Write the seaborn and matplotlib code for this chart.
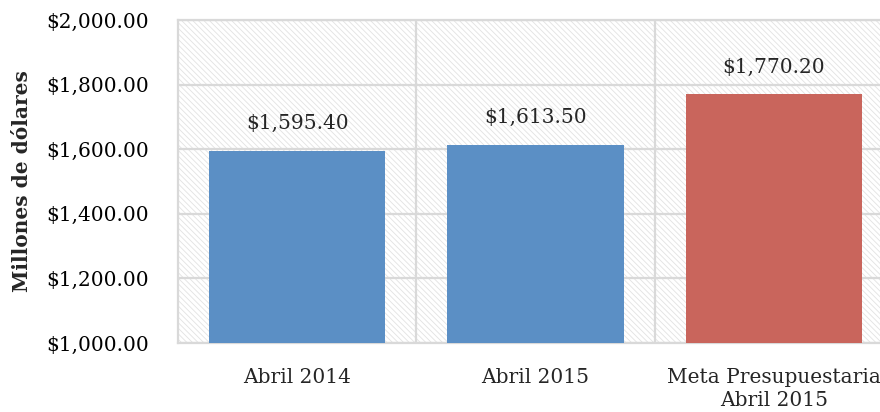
import matplotlib
matplotlib.use("Agg")
import matplotlib.pyplot as plt
import seaborn as sns
import pandas as pd
from matplotlib.patches import Rectangle
from matplotlib.ticker import FuncFormatter, FixedLocator

categories = ["Abril 2014", "Abril 2015", "Meta Presupuestaria\nAbril 2015"]
values = [1595.40, 1613.50, 1770.20]
colors = ["#5B8FC5", "#5B8FC5", "#C9655C"]
y_ticks = [1000, 1200, 1400, 1600, 1800, 2000]

sns.set_theme(style="white")
plt.rcParams["font.family"] = ["DejaVu Serif"]
plt.rcParams["hatch.color"] = "#E2E2E2"
plt.rcParams["hatch.linewidth"] = 0.6

df = pd.DataFrame({"cat": categories, "val": values})

fig = plt.figure(figsize=(8.8, 4.12), dpi=100)
ax = fig.add_axes([178 / 880, 1 - 343 / 412, 715 / 880, 323 / 412])

bg = Rectangle((0, 0), 1, 1, transform=ax.transAxes, facecolor="white",
               edgecolor="#E2E2E2", hatch="\\" * 6, linewidth=0, zorder=0)
ax.add_patch(bg)

sns.barplot(data=df, x="cat", y="val", hue="cat", palette=colors, width=0.74,
            legend=False, ax=ax, saturation=1, zorder=3, linewidth=0)

ax.set_ylim(1000, 2000)
ax.set_xlim(-0.5, 2.5)
ax.yaxis.set_major_locator(FixedLocator(y_ticks))
ax.yaxis.set_major_formatter(FuncFormatter(lambda v, p: f"${v:,.2f}"))
ax.xaxis.set_minor_locator(FixedLocator([0.5, 1.5]))
ax.grid(axis="y", which="major", color="#D9D9D9", linewidth=1.6, zorder=1)
ax.grid(axis="x", which="minor", color="#D9D9D9", linewidth=1.6, zorder=1)
ax.set_axisbelow(True)
ax.tick_params(axis="both", which="both", length=0)
ax.tick_params(axis="y", labelsize=14.5, pad=21, colors="#000000")
ax.tick_params(axis="x", labelsize=14.5, pad=18)
for lbl in ax.get_xticklabels():
    lbl.set_linespacing(1.25)

for s in ["left", "bottom", "top"]:
    ax.spines[s].set_color("#D9D9D9")
    ax.spines[s].set_linewidth(1.6)
ax.spines["right"].set_visible(False)

ax.set_xlabel("")
ax.set_ylabel("Millones de dólares", fontsize=14.5, fontweight="bold", labelpad=10)

for i, v in enumerate(values):
    ax.annotate(f"${v:,.2f}", (i, v), xytext=(0, 27), textcoords="offset pixels",
                ha="center", va="center", fontsize=14.5, zorder=5)

fig.savefig("out.png", dpi=100)
